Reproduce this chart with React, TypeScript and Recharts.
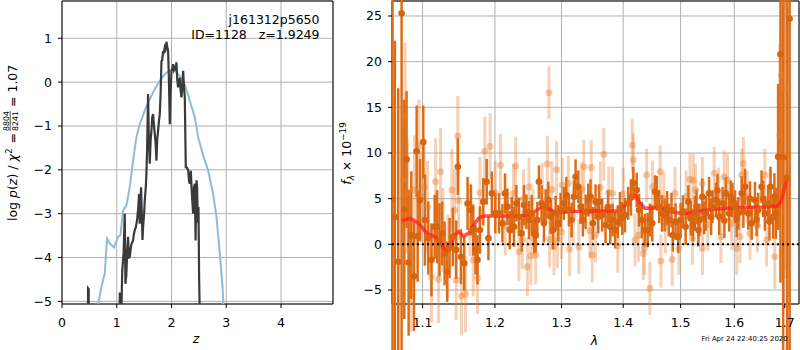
import React from 'react';
import {
  ComposedChart,
  Line,
  Scatter,
  ErrorBar,
  XAxis,
  YAxis,
  CartesianGrid,
  ReferenceLine,
  ReferenceArea,
} from 'recharts';

const FONT = 'DejaVu Sans';

// ---------- Left panel: log p(z) and chi2 vs z ----------
const zBlack = [
  0.0, 0.465, 0.476, 0.488, 0.495, 1.045, 1.055, 1.065, 1.086, 1.1, 1.125, 1.146, 1.158, 1.175, 1.19, 1.207,
  1.222, 1.237, 1.255, 1.268, 1.298, 1.315, 1.329, 1.35, 1.371, 1.39, 1.408, 1.42, 1.432, 1.444, 1.46, 1.47,
  1.481, 1.5, 1.512, 1.53, 1.542, 1.555, 1.572, 1.585, 1.603, 1.62, 1.634, 1.648, 1.664, 1.68, 1.695, 1.71,
  1.725, 1.74, 1.755, 1.77, 1.786, 1.8, 1.817, 1.83, 1.847, 1.86, 1.877, 1.89, 1.908, 1.922, 1.938, 1.952,
  1.969, 1.985, 2.0, 2.015, 2.029, 2.045, 2.06, 2.075, 2.091, 2.105, 2.121, 2.135, 2.152, 2.168, 2.182, 2.198,
  2.213, 2.228, 2.243, 2.261, 2.28, 2.304, 2.32, 2.334, 2.353, 2.37, 2.395, 2.41, 2.426, 2.44, 2.457, 2.468,
  2.48, 2.493, 2.505, 2.517, 2.53,
];
const logPBlack = [
  -9, -9, -4.7, -4.72, -9, -9, -4.8, -9, -5.2, -4.3, -3.9, -3.0, -4.6, -4.4, -3.9, -3.53,
  -4.0, -3.99, -3.8, -3.7, -3.61, -3.45, -3.38, -3.3, -3.15, -2.9, -2.55, -3.23, -2.8, -2.4, -3.1, -3.6,
  -3.3, -3.0, -2.7, -2.4, -2.09, -1.5, -0.27, -1.2, -1.86, -1.3, -1.11, -0.8, -0.73, -1.0, -1.18, -1.4,
  -1.79, -1.3, -1.11, -0.9, -0.73, -0.3, 0.48, 0.5, 0.71, 0.65, 0.79, 0.75, 0.92, 0.8, 0.71, 0.1,
  -0.96, -0.2, 0.26, 0.3, 0.41, 0.28, 0.33, 0.3, 0.45, 0.05, -0.12, 0.0, 0.1, -0.2, -0.35, -0.1,
  0.26, -0.1, -0.35, -1.94, -1.95, -2.0, -2.25, -2.32, -2.02, -2.5, -3.0, -2.4, -2.32, -3.61, -2.24, -2.4,
  -3.2, -2.85, -4.5, -5.3, -9,
];
const zBlue = [
  0.64, 0.72, 0.781, 0.823, 0.872, 0.951, 1.024, 1.067, 1.116, 1.177, 1.237, 1.298, 1.359, 1.42, 1.512, 1.603,
  1.695, 1.786, 1.877, 1.969, 2.06, 2.152, 2.243, 2.334, 2.426, 2.487, 2.578, 2.67, 2.761, 2.822, 2.883, 2.932, 2.956,
];
const chi2Blue = [
  -5.2, -4.67, -4.36, -3.57, -3.68, -3.77, -3.53, -3.49, -2.93, -2.81, -2.4, -1.79, -1.26, -0.96, -0.65, -0.39,
  -0.16, 0.03, 0.18, 0.27, 0.27, 0.14, -0.05, -0.43, -0.8, -1.26, -1.67, -2.02, -2.55, -3.08, -3.91, -4.67, -5.3,
];
const zTicks = [0, 1, 2, 3, 4];
const logPTicks = [-5, -4, -3, -2, -1, 0, 1];

// ---------- Right panel: spectrum ----------
const darkLam = [
  1.061, 1.064, 1.0683, 1.0726, 1.0761, 1.079, 1.0817, 1.0852, 1.0887, 1.0922, 1.0935, 1.0966, 1.1009, 1.1031,
  1.1076, 1.1118, 1.1161, 1.1194, 1.1226, 1.1262, 1.1295, 1.133, 1.1363, 1.1408, 1.1453, 1.1476, 1.1519, 1.1565,
  1.1611, 1.1659, 1.1691, 1.1723, 1.1751, 1.1785, 1.1833, 1.1881, 1.1906, 1.1955, 1.2005,
  1.2059, 1.2108, 1.2146, 1.2181, 1.2215, 1.2244, 1.2278, 1.2313, 1.2351, 1.2391, 1.2426, 1.2462, 1.2501, 1.2542,
  1.2576, 1.2602, 1.2627, 1.2651, 1.2692, 1.2728, 1.2754, 1.2795, 1.2831, 1.2866, 1.2908, 1.2949, 1.2985, 1.3036,
  1.3074, 1.3115, 1.3158, 1.3194, 1.3221, 1.3264, 1.33, 1.3337, 1.3381, 1.3424, 1.3461, 1.3498, 1.3542, 1.3586,
  1.36, 1.365, 1.3706, 1.3747, 1.3784, 1.3822, 1.3865, 1.3909, 1.3946, 1.3984, 1.4029, 1.4085, 1.4131, 1.4171,
  1.4229, 1.4268, 1.4315, 1.4371, 1.4417, 1.4456, 1.4498, 1.4547, 1.4577, 1.4619, 1.4668, 1.4715, 1.4759, 1.4788,
  1.4837, 1.4861, 1.4909, 1.4958, 1.5, 1.5042, 1.5091, 1.514, 1.5183, 1.5225, 1.526, 1.5324,
  1.529, 1.5345, 1.5397, 1.543, 1.546, 1.5522, 1.556, 1.5587, 1.5649, 1.568, 1.5712, 1.5776, 1.581, 1.5839, 1.5901,
  1.593, 1.5965, 1.6014, 1.6046, 1.6078, 1.6144, 1.6176, 1.6208, 1.6272, 1.6305, 1.6338, 1.6402, 1.6434, 1.6466,
  1.6533, 1.6566, 1.6599, 1.6665, 1.669, 1.6713, 1.6765, 1.679, 1.6819, 1.6865, 1.6913, 1.6968, 1.7049, 1.71,
];
const darkFlux = [
  5.0, 3.0, -1.9, 25.3, 3.83, 9.3, -2.0, 1.0, -3.5, 10.2, 0.9, 4.85, 11.2, 2.66,
  0.7, -1.7, 1.93, 1.93, 0.5, 1.2, -1.0, -3.0, -0.4, 0.8, -0.6, 8.5, -1.35, -2.08,
  4.48, 3.75, 1.56, -0.6, -1.7, 1.56, 4.66, 6.85, 0.66, 5.58, 3.4,
  3.39, 2.3, 5.58, 4.12, 1.56, 3.2, 1.93, 4.49, 3.02, 1.2, 4.3, 3.57, 2.66, 3.39,
  1.2, 1.02, 2.66, 6.85, 4.49, 2.3, 4.12, 4.85, 3.02, 1.56, 3.39, 2.3, 3.75, 4.49,
  5.39, 3.75, 2.66, 5.21, 7.4, 6.3, 4.12, 2.66, 3.57, 4.85, 5.21, 2.3, 4.66, 3.02,
  4.66, 3.2, 2.11, 4.12, 1.93, 2.66, 1.56, 2.48, 3.83, 2.84, 3.2, 4.49, 5.14, 6.67,
  5.94, 3.75, 2.66, 1.56, 1.56, 2.66, 2.3, 5.76, 5.58, 4.12, 3.39, 3.2, 3.94, 2.66,
  3.75, 1.02, 2.48, 0.84, 2.66, 3.57, 1.93, 4.66, 2.84, 2.11, 3.39, 1.56,
  4.12, 2.66, 5.21, 2.9, 3.39, 5.58, 3.0, 4.12, 4.85, 5.9, 3.02, 4.49, 2.6, 5.58, 3.39,
  5.2, 4.85, 4.12, 2.8, 3.39, 5.58, 3.6, 6.3, 3.39, 5.0, 2.3, 4.85, 2.7, 3.75,
  6.3, 5.0, 3.39, 4.49, 2.5, 6.3, 3.02, 5.2, 3.39, 9.58, 20.8, 9.5, 7.3, 24.7,
];
const darkErr = [
  40, 19.3, 19, 40, 12, 7.5, 8, 7, 6, 5, 5, 4.5, 4, 5,
  4, 4, 3.5, 4, 4, 3.5, 3.5, 3.3, 3.3, 3.2, 3.2, 3.1, 3.0, 3.0,
  2.9, 2.8, 2.8, 2.7, 2.7, 2.6, 2.6, 2.5, 2.4, 2.4, 2.2,
  2.2, 2.1, 2.2, 2.0, 2.1, 2.0, 2.2, 2.0, 2.1, 2.0, 2.2, 1.9, 2.1, 2.0,
  2.2, 1.9, 2.0, 1.8, 2.0, 2.1, 1.9, 2.0, 1.9, 2.1, 1.9, 2.0, 1.9, 1.8,
  2.0, 1.8, 1.9, 1.8, 1.9, 1.8, 1.9, 1.8, 1.9, 1.8, 1.9, 1.8, 1.9, 1.8,
  1.9, 1.8, 2.0, 1.8, 1.9, 1.8, 2.0, 1.8, 1.9, 1.8, 1.9, 1.8, 2.0, 1.8,
  1.9, 1.8, 2.0, 1.8, 1.9, 1.8, 2.0, 1.8, 1.9, 1.8, 2.0, 1.8, 1.9, 1.8,
  1.9, 1.8, 2.0, 1.8, 1.9, 1.8, 2.0, 1.8, 1.9, 1.8, 1.9, 1.8,
  1.9, 1.8, 2.0, 1.8, 1.9, 1.8, 2.0, 1.8, 1.9, 1.8, 2.0, 1.8, 1.9, 1.8, 2.0,
  1.8, 1.9, 1.8, 2.0, 1.8, 1.9, 1.8, 2.0, 1.8, 1.9, 1.8, 2.0, 1.8, 1.9,
  1.8, 2.0, 1.9, 2.0, 2.1, 2.2, 2.4, 2.6, 2.8, 8, 25, 40, 40, 40,
];

const lightLam = [
  1.0748, 1.077, 1.0803, 1.0821, 1.0848, 1.0893, 1.0953, 1.0979, 1.1022, 1.1065, 1.1118, 1.1174, 1.1212, 1.1241,
  1.1272, 1.134, 1.1395, 1.1431, 1.1453, 1.1476, 1.1486, 1.1527, 1.1583, 1.1644, 1.1691, 1.1751, 1.1785, 1.1855,
  1.193, 1.2005, 1.2079, 1.215, 1.227, 1.2303, 1.2351, 1.2401, 1.242, 1.2476, 1.2501, 1.2527, 1.256, 1.2602, 1.27,
  1.278, 1.2805, 1.2815, 1.285, 1.2882, 1.2923, 1.2934, 1.3, 1.3011, 1.3106, 1.3126, 1.318, 1.3273, 1.332, 1.3353,
  1.345, 1.3472, 1.3488, 1.3542, 1.362, 1.3677, 1.3758, 1.382, 1.3909, 1.4, 1.4154, 1.4171, 1.42, 1.426, 1.4342,
  1.4359, 1.44, 1.4456, 1.45, 1.4637, 1.4649, 1.47, 1.4727, 1.4849, 1.49, 1.4969, 1.51, 1.517, 1.5214, 1.523,
  1.5274, 1.5397, 1.54, 1.55, 1.5618, 1.57, 1.5744, 1.5807, 1.587, 1.595, 1.6047, 1.6111, 1.6144, 1.6175, 1.625,
  1.6305, 1.645, 1.6599, 1.6633, 1.67, 1.6798, 1.6898, 1.6932, 1.7008, 1.7021,
];
const lightFlux = [
  7.03, 14.1, 5.58, -0.62, -3.54, 5.94, 10.86, 5.21, 6.3, 4.12, -3.54, 6.85, -3.83, 7.94,
  1.56, -1.35, 5.94, 3.75, -3.9, 11.85, 4.8, -5.66, -5.44, 2.66, -1.7, -3.72, 5.66, 10.2,
  10.75, 5.66, 8.67, 2.0, 5.6, 8.57, -0.81, 0.47, 5.0, -2.45, 6.3, -1.28, 3.0, -1.17, 5.8,
  8.79, 16.6, 0.55, 6.0, -0.26, 8.2, 0.47, 1.4, 6.49, 6.67, -0.48, 3.0, -0.26, 6.0, 8.49,
  1.5, 8.42, -1.17, 1.02, 6.2, 9.85, 5.65, 5.6, -0.19, 5.5, 10.86, 9.23, 0.47, 1.0, -0.99,
  -0.44, 7.58, -4.81, 6.3, 7.94, -1.83, 5.0, 1.93, -1.64, 5.6, -0.44, 5.2, 7.11, 0.66, 7.03,
  5.94, 6.67, -0.44, 2.2, 7.77, 5.5, 0.83, 7.4, 7.03, 2.3, -0.44, 0.83, 7.58, 8.86, 5.2,
  1.2, 2.0, 7.58, 0.47, 5.3, -1.35, 11.96, 18.5, 26.2, 17.1,
];
const lightErr = [
  6, 8, 6, 6, 6, 6, 5, 5, 5, 5, 5, 4.8, 4.8, 4.8,
  4.6, 4.6, 4.5, 4.5, 4.4, 4.4, 4.3, 4.3, 4.2, 4.0, 4.0, 3.9, 3.9, 3.8,
  3.6, 3.5, 3.4, 3.2, 3.2, 3.2, 3.2, 3.2, 3.2, 3.2, 3.2, 3.2, 3.1, 3.2, 3.1,
  3.1, 2.9, 3.1, 3.1, 3.1, 3.1, 3.1, 3.0, 3.0, 3.0, 3.0, 3.0, 3.0, 3.0, 3.0,
  3.0, 3.0, 3.0, 3.0, 2.9, 2.9, 2.9, 2.9, 2.9, 2.9, 2.9, 2.9, 2.9, 2.9, 2.9,
  2.9, 2.9, 2.9, 2.9, 2.9, 2.9, 2.9, 2.9, 2.9, 2.9, 2.9, 2.9, 2.9, 2.9, 2.9,
  2.9, 2.9, 2.9, 2.9, 2.9, 2.9, 2.9, 2.9, 2.9, 2.9, 2.9, 2.9, 2.9, 2.9, 2.9,
  2.9, 2.9, 2.9, 2.9, 2.9, 3.5, 10, 12, 30, 20,
];

const modelLam = [
  1.0731, 1.0839, 1.0947, 1.1058, 1.1169, 1.1259, 1.1317, 1.1372, 1.1427, 1.1486, 1.1555, 1.1625, 1.1695, 1.1765,
  1.1836, 1.2028, 1.232, 1.2518, 1.2619, 1.272, 1.2822, 1.2926, 1.3134, 1.3562, 1.3891, 1.4, 1.4115, 1.42, 1.4286,
  1.4371, 1.4515, 1.4633, 1.4751, 1.4929, 1.511, 1.5291, 1.5599, 1.5915, 1.6237, 1.6564, 1.6865, 1.6934, 1.7, 1.7049,
];
const modelFlux = [
  2.58, 2.84, 2.3, 1.2, 0.83, -0.08, -0.81, -0.26, 1.0, 1.38, 0.91, 1.2, 2.1, 2.84,
  3.1, 3.1, 3.1, 3.2, 3.75, 4.2, 3.8, 3.46, 3.6, 3.65, 3.65, 4.05, 4.85, 5.4, 4.5,
  3.94, 3.94, 4.1, 3.7, 3.46, 3.37, 3.6, 3.83, 3.94, 4.05, 4.1, 4.2, 4.85, 6.3, 7.4,
];
const lamTicks = [1.1, 1.2, 1.3, 1.4, 1.5, 1.6, 1.7];
const fluxTicks = [-5, 0, 5, 10, 15, 20, 25];

// ---------- derived tables ----------
const blackData = zBlack.map((z, i) => ({ z, v: logPBlack[i] }));
const blueData = zBlue.map((z, i) => ({ z, v: chi2Blue[i] }));
const darkData = darkLam.map((lam, i) => ({ lam, f: darkFlux[i], e: darkErr[i] }));
const lightData = lightLam.map((lam, i) => ({ lam, f: lightFlux[i], e: lightErr[i] }));
const modelData = modelLam.map((lam, i) => ({ lam, f: modelFlux[i] }));

const fmt = (v: number) => (v < 0 ? '\u2212' + Math.abs(v) : String(v));
const tickStyle = { fill: '#000', fontSize: 12.5, fontFamily: FONT };

const DarkDot = (p: any) => <circle cx={p.cx} cy={p.cy} r={3.3} fill="#d9640f" />;
const LightDot = (p: any) => <circle cx={p.cx} cy={p.cy} r={3.5} fill="rgba(232,128,50,0.42)" />;

export default function App() {
  return (
    <div style={{ position: 'absolute', left: 0, top: 0, width: 800, height: 350, background: '#fff', fontFamily: FONT }}>
      <div style={{ position: 'absolute', left: 0, top: 0 }}>
        <ComposedChart width={340} height={350} margin={{ top: 1, right: 7, bottom: 0, left: 0 }}>
          <CartesianGrid stroke="#b0b0b0" strokeWidth={1} />
          <XAxis
            type="number"
            dataKey="z"
            domain={[0, 4.95]}
            ticks={zTicks}
            allowDataOverflow
            height={46}
            tickSize={4}
            tickMargin={10}
            tick={tickStyle}
            tickLine={{ stroke: '#000' }}
            axisLine={false}
            tickFormatter={fmt}
          />
          <YAxis
            type="number"
            dataKey="v"
            domain={[-5.06, 1.85]}
            ticks={logPTicks}
            allowDataOverflow
            width={62}
            tickSize={4}
            tickMargin={6}
            tick={tickStyle}
            tickLine={{ stroke: '#000' }}
            axisLine={false}
            tickFormatter={fmt}
          />
          <Line data={blueData} dataKey="v" type="linear" stroke="#8fbbd9" strokeWidth={2} dot={false} isAnimationActive={false} />
          <Line data={blackData} dataKey="v" type="linear" stroke="#3a3a3a" strokeWidth={2.2} dot={false} isAnimationActive={false} />
          <ReferenceArea x1={0} x2={4.95} y1={-5.06} y2={1.85} fill="none" fillOpacity={0} stroke="#000" strokeWidth={1} />
        </ComposedChart>
      </div>

      <div style={{ position: 'absolute', left: 330, top: 0 }}>
        <ComposedChart width={470} height={350} margin={{ top: 1, right: 1, bottom: 0, left: 0 }}>
          <CartesianGrid stroke="#b0b0b0" strokeWidth={1} />
          <XAxis
            type="number"
            dataKey="lam"
            scale="log"
            domain={[1.0603, 1.7294]}
            ticks={lamTicks}
            allowDataOverflow
            height={46}
            tickSize={4}
            tickMargin={10}
            tick={tickStyle}
            tickLine={{ stroke: '#000' }}
            axisLine={false}
            tickFormatter={fmt}
          />
          <YAxis
            type="number"
            dataKey="f"
            domain={[-6.53, 26.64]}
            ticks={fluxTicks}
            allowDataOverflow
            width={62}
            tickSize={4}
            tickMargin={6}
            tick={tickStyle}
            tickLine={{ stroke: '#000' }}
            axisLine={false}
            tickFormatter={fmt}
          />
          <Scatter data={lightData} shape={LightDot} isAnimationActive={false}>
            <ErrorBar dataKey="e" direction="y" width={0} stroke="rgba(232,128,50,0.36)" strokeWidth={3} />
          </Scatter>
          <Scatter data={darkData} shape={DarkDot} isAnimationActive={false}>
            <ErrorBar dataKey="e" direction="y" width={0} stroke="#dd6c16" strokeWidth={2.5} />
          </Scatter>
          <Line data={modelData} dataKey="f" type="linear" stroke="rgba(255,35,25,0.78)" strokeWidth={3.5} dot={false} isAnimationActive={false} />
          <ReferenceLine y={0} stroke="#000" strokeWidth={2} strokeDasharray="2 3" />
          <ReferenceArea x1={1.0603} x2={1.7294} y1={-6.53} y2={26.64} fill="none" fillOpacity={0} stroke="#000" strokeWidth={1} />
        </ComposedChart>
      </div>

      <svg
        width={800}
        height={350}
        style={{ position: 'absolute', left: 0, top: 0, pointerEvents: 'none' }}
        fontFamily={FONT}
      >
        {/* left y label */}
        <g transform="translate(17,156) rotate(-90)">
          <text x={23} y={0} textAnchor="end" fontSize={12.5} fill="#000">
            log <tspan fontStyle="italic">p</tspan>(<tspan fontStyle="italic">z</tspan>)<tspan dx={4}>/</tspan>
            <tspan dx={4} fontStyle="italic">χ</tspan>
            <tspan dy={-5} fontSize={8.8}>2</tspan>
            <tspan dy={5} dx={5}>=</tspan>
          </text>
          <text x={35} y={-8.5} textAnchor="middle" fontSize={7.8} fill="#000">8804</text>
          <line x1={25} x2={45} y1={-6.8} y2={-6.8} stroke="#000" strokeWidth={0.7} />
          <text x={35} y={1} textAnchor="middle" fontSize={7.8} fill="#000">8241</text>
          <text x={49} y={0} fontSize={12.5} fill="#000">= 1.07</text>
        </g>

        {/* left annotation */}
        <text x={319.5} y={24} textAnchor="end" fontSize={12.5} fill="#000">j161312p5650</text>
        <text x={319.5} y={39} textAnchor="end" fontSize={12.5} fill="#000" style={{ whiteSpace: 'pre' }}>
          {'ID=1128   z=1.9249'}
        </text>

        {/* x labels */}
        <text x={196} y={343} textAnchor="middle" fontSize={12.5} fontStyle="italic" fill="#000">z</text>
        <text x={594.5} y={344.5} textAnchor="middle" fontSize={12.5} fontStyle="italic" fill="#000">λ</text>

        {/* right y label */}
        <g transform="translate(351,153.5) rotate(-90)">
          <text x={0} y={0} textAnchor="middle" fontSize={12.5} fill="#000">
            <tspan fontStyle="italic">f</tspan>
            <tspan dy={3} fontSize={8.8} fontStyle="italic">λ</tspan>
            <tspan dy={-3}> × 10</tspan>
            <tspan dy={-5} fontSize={8.8}>−19</tspan>
          </text>
        </g>

        {/* timestamp */}
        <text x={701.5} y={340.5} fontSize={6.9} fill="#000">Fri Apr 24 22:40:25 2020</text>
      </svg>
    </div>
  );
}
